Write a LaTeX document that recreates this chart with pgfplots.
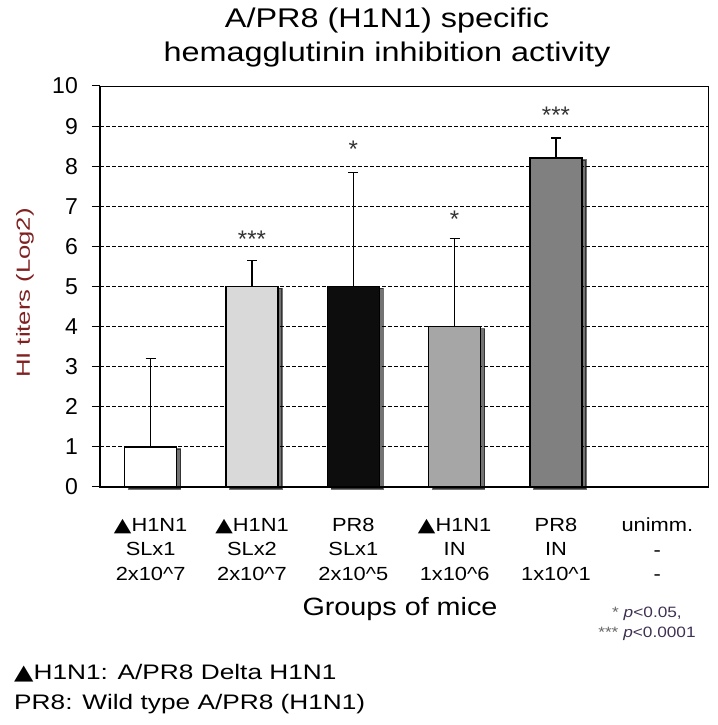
\documentclass[border=0pt]{standalone}
\usepackage{fontspec}
\setmainfont{Liberation Sans}
\newfontfamily\wideA[FakeStretch=1.2]{Liberation Sans}
\newfontfamily\wideB[FakeStretch=1.15]{Liberation Sans}
\newfontfamily\wideC[FakeStretch=1.35]{Liberation Sans}
\newfontfamily\wideD[FakeStretch=1.25]{Liberation Sans}
\newfontfamily\tri[FakeStretch=1.2]{DejaVu Sans}
\newcommand{\T}{{\tri ▲}}
\usepackage{pgfplots}
\pgfplotsset{compat=1.18}
\usetikzlibrary{shadows}
\definecolor{barB}{HTML}{D9D9D9}
\definecolor{barC}{HTML}{0D0D0D}
\definecolor{barD}{HTML}{A6A6A6}
\definecolor{barE}{HTML}{808080}
\definecolor{ylab}{HTML}{802020}
\definecolor{pnote}{HTML}{403152}
\tikzset{barshadow/.style={drop shadow={shadow xshift=4pt, shadow yshift=-2pt, opacity=0.55, fill=black}}}
\begin{document}
\begin{tikzpicture}
\useasboundingbox (0pt,0pt) rectangle (717pt,725pt);
\begin{axis}[
  at={(100pt,238pt)}, anchor=south west,
  scale only axis, width=608pt, height=401pt,
  xmin=-0.5, xmax=5.5, ymin=0, ymax=10,
  ytick={0,1,...,10},
  xtick={0,1,2,3,4,5},
  xticklabels={
    {\T\wideB H1N1\\\wideB SLx1\\\wideB 2x10\textasciicircum7},
    {\T\wideB H1N1\\\wideB SLx2\\\wideB 2x10\textasciicircum7},
    {\wideB PR8\\\wideB SLx1\\\wideB 2x10\textasciicircum5},
    {\T\wideB H1N1\\\wideB IN\\\wideB 1x10\textasciicircum6},
    {\wideB PR8\\\wideB IN\\\wideB 1x10\textasciicircum1},
    {\wideB unimm.\\\wideB -\\\wideB -}},
  xticklabel style={align=center, anchor=north, inner sep=0pt, yshift=-23pt,
    font=\fontsize{19}{24.5}\selectfont},
  xtick style={draw=none},
  ytick pos=left,
  tick align=outside,
  major tick length=8pt,
  ytick style={line width=1pt, black},
  yticklabel style={anchor=east, inner sep=0pt, xshift=-14pt, font=\fontsize{23}{23}\selectfont},
  /pgf/number format/assume math mode=true,
  ymajorgrids,
  major grid style={black, line width=0.9pt, dash pattern=on 4pt off 2pt},
  axis line style={line width=0.8pt, black},
  clip=false,
  ybar, bar width=52pt,
  error bars/y dir=plus, error bars/y explicit,
  error bars/error bar style={line width=1.3pt, black},
  error bars/error mark options={line width=1.3pt, black, mark size=5pt, rotate=90},
]
\addplot[ybar, bar shift=0pt, fill=white, draw=black, line width=1.4pt, barshadow]
  coordinates {(0,1) +- (0,2.2)};
\addplot[ybar, bar shift=0pt, fill=barB, draw=black, line width=1.4pt, barshadow]
  coordinates {(1,5) +- (0,0.65)};
\addplot[ybar, bar shift=0pt, fill=barC, draw=black, line width=1.4pt, barshadow]
  coordinates {(2,5) +- (0,2.85)};
\addplot[ybar, bar shift=0pt, fill=barD, draw=black, line width=1.4pt, barshadow]
  coordinates {(3,4) +- (0,2.2)};
\addplot[ybar, bar shift=0pt, fill=barE, draw=black, line width=1.4pt, barshadow]
  coordinates {(4,8.2) +- (0,0.5)};
\draw[line width=1.6pt, black] (rel axis cs:0,1) -- (rel axis cs:0,0) -- (rel axis cs:1,0);
\node[anchor=north, inner sep=0pt, font=\fontsize{24}{24}\selectfont, text=black!80] at (axis cs:1,6.38) {***};
\node[anchor=north, inner sep=0pt, font=\fontsize{24}{24}\selectfont, text=black!80] at (axis cs:2,8.63) {*};
\node[anchor=north, inner sep=0pt, font=\fontsize{24}{24}\selectfont, text=black!80] at (axis cs:3,6.89) {*};
\node[anchor=north, inner sep=0pt, font=\fontsize{24}{24}\selectfont, text=black!80] at (axis cs:4,9.47) {***};
\end{axis}
% title
\node[anchor=base, inner sep=0pt, font=\wideA\fontsize{27}{27}\selectfont] at (387pt,697pt) {A/PR8 (H1N1) specific};
\node[anchor=base, inner sep=0pt, font=\wideA\fontsize{27}{27}\selectfont] at (387pt,663pt) {hemagglutinin inhibition activity};
% y label
\node[rotate=90, inner sep=0pt, text=ylab, font=\wideC\fontsize{19}{19}\selectfont] at (25pt,432pt) {HI titers (Log2)};
% x label
\node[anchor=base, inner sep=0pt, font=\wideB\fontsize{25}{25}\selectfont] at (400pt,109pt) {Groups of mice};
% p note
\node[anchor=base, inner sep=0pt, text=pnote, font=\wideB\fontsize{15}{15}\selectfont] at (647pt,107pt) {\textcolor{black!60}{*} \textit{p}<0.05,};
\node[anchor=base, inner sep=0pt, text=pnote, font=\wideB\fontsize{15}{15}\selectfont] at (647pt,87pt) {\textcolor{black!60}{***} \textit{p}<0.0001};
% footnotes
\node[anchor=base west, inner sep=0pt, font=\fontsize{21}{21}\selectfont] at (14pt,45pt) {\T\wideD H1N1: A/PR8 Delta H1N1};
\node[anchor=base west, inner sep=0pt, font=\wideD\fontsize{21}{21}\selectfont] at (14pt,15pt) {PR8: Wild type A/PR8 (H1N1)};
\end{tikzpicture}
\end{document}
